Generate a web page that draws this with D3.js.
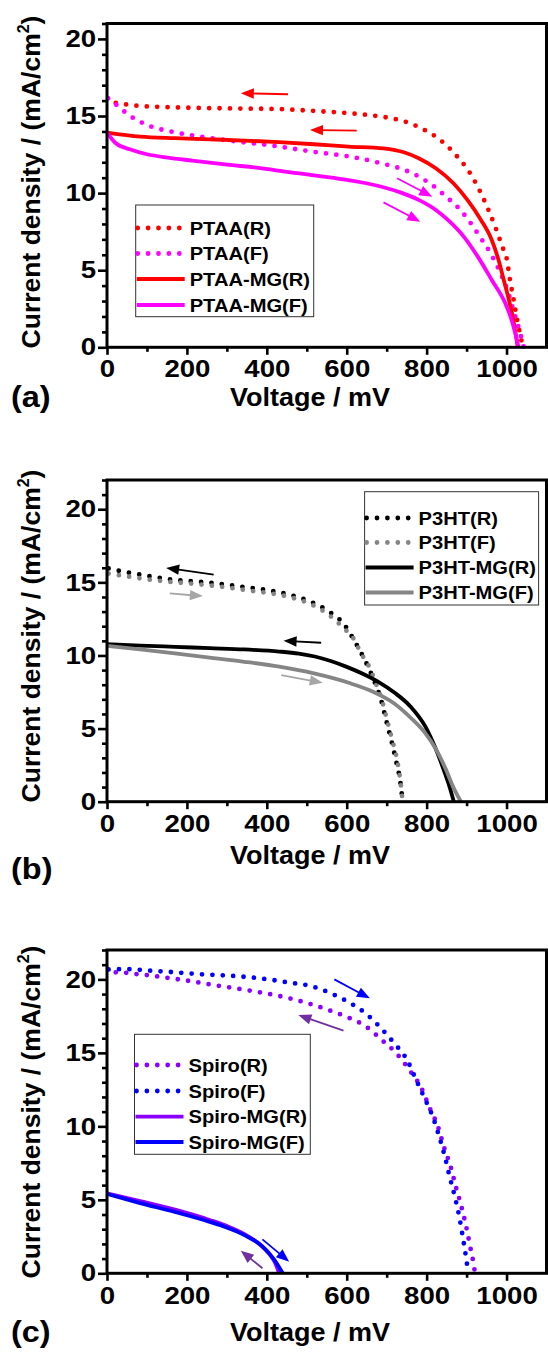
<!DOCTYPE html>
<html>
<head>
<meta charset="utf-8">
<script src="https://cdn.jsdelivr.net/npm/d3@7"></script>
<style>
  body { margin: 0; background: #fff; }
  svg { display: block; font-family: 'Liberation Sans', Arial, sans-serif; font-weight: bold; }
</style>
</head>
<body>
<svg id="chart" width="548" height="1356"></svg>
<script>
/* global d3 */

// ---- data: [voltage mV, current density mA/cm2] ----
var voltTicks = [0, 200, 400, 600, 800, 1000]
var currTicks = [0, 5, 10, 15, 20]

// panel (a) PTAA
var ptaaR = [[22, 15.85], [78, 15.66], [131, 15.59], [183, 15.55], [235, 15.52], [287, 15.5], [340, 15.48], [392, 15.47], [440, 15.44], [492, 15.37], [544, 15.29], [597, 15.2], [647, 15.08], [697, 14.92], [746, 14.64], [793, 14.12], [834, 13.45], [872, 12.5], [906, 11.4], [931, 10.25], [954, 8.95], [974, 7.65], [991, 6.42], [1000, 5.8], [1008, 4.48], [1017, 3.18], [1027, 1.73], [1037, 0.48], [1041, 0]]
var ptaaF = [[3, 16.15], [22, 15.76], [58, 15.0], [85, 14.6], [111, 14.31], [161, 13.99], [235, 13.66], [314, 13.38], [414, 13.08], [514, 12.69], [618, 12.32], [693, 11.89], [745, 11.5], [788, 10.96], [830, 10.2], [849, 9.75], [868, 9.34], [902, 8.35], [932, 7.22], [961, 6.05], [983, 4.91], [1002, 3.72], [1017, 2.42], [1032, 1.12], [1043, 0]]
var ptaaMgR = [[0, 13.92], [83, 13.66], [170, 13.56], [257, 13.49], [344, 13.41], [431, 13.3], [518, 13.17], [605, 13.02], [692, 12.9], [745, 12.63], [780, 12.26], [823, 11.61], [867, 10.64], [902, 9.56], [936, 8.26], [963, 6.96], [980, 5.66], [993, 4.37], [1006, 3.07], [1017, 1.77], [1028, 0]]
var ptaaMgF = [[0, 13.92], [22, 13.23], [57, 12.84], [100, 12.52], [152, 12.3], [213, 12.11], [301, 11.85], [388, 11.61], [475, 11.29], [562, 11.0], [649, 10.64], [692, 10.38], [736, 10.03], [780, 9.56], [823, 8.91], [858, 8.15], [893, 7.18], [928, 5.88], [963, 4.37], [997, 2.85], [1010, 1.99], [1022, 0.91], [1030, 0]]

// panel (b) P3HT
var p3htR = [[4, 15.95], [30, 15.79], [57, 15.65], [81, 15.54], [106, 15.42], [132, 15.31], [159, 15.19], [209, 15.08], [261, 14.97], [309, 14.8], [361, 14.62], [412, 14.42], [462, 14.12], [510, 13.67], [553, 13.05], [593, 12.14], [623, 10.82], [647, 9.59], [668, 8.31], [686, 6.95], [699, 5.54], [712, 4.15], [724, 2.73], [734, 1.37], [740, 0]]
var p3htF = [[4, 15.6], [57, 15.38], [106, 15.19], [159, 15.03], [209, 14.92], [261, 14.78], [309, 14.62], [361, 14.42], [412, 14.24], [462, 13.96], [510, 13.51], [553, 12.82], [593, 11.85], [616, 11.2], [636, 10.14], [656, 9.23], [673, 8.09], [688, 6.95], [701, 5.58], [714, 4.21], [726, 2.85], [734, 1.48], [740, 0]]
var p3htMgR = [[0, 10.77], [83, 10.68], [170, 10.59], [257, 10.5], [344, 10.41], [431, 10.27], [480, 10.13], [520, 9.93], [560, 9.62], [600, 9.22], [640, 8.75], [680, 8.18], [720, 7.45], [760, 6.5], [797, 5.13], [823, 3.6], [845, 2.0], [858, 0.95], [868, 0]]
var p3htMgF = [[0, 10.66], [83, 10.41], [170, 10.14], [257, 9.86], [344, 9.57], [431, 9.23], [518, 8.77], [605, 8.13], [666, 7.52], [719, 6.72], [762, 5.69], [797, 4.67], [823, 3.6], [849, 2.16], [866, 1.03], [886, 0]]

// panel (c) Spiro
var spiroR = [[22, 20.48], [48, 20.45], [74, 20.36], [100, 20.29], [151, 20.11], [202, 19.91], [253, 19.68], [305, 19.46], [355, 19.25], [407, 19.0], [457, 18.71], [506, 18.35], [555, 17.91], [603, 17.41], [649, 16.78], [688, 15.87], [726, 14.92], [758, 13.79], [787, 12.59], [808, 11.22], [829, 9.93], [843, 8.62], [860, 7.26], [873, 5.9], [887, 4.54], [899, 3.17], [909, 1.81], [919, 0.39], [921, 0]]
var spiroF = [[4, 20.68], [50, 20.7], [100, 20.61], [151, 20.52], [203, 20.41], [255, 20.32], [307, 20.25], [358, 20.14], [409, 19.98], [459, 19.77], [510, 19.55], [557, 19.09], [604, 18.46], [647, 17.69], [684, 16.73], [719, 15.65], [752, 14.47], [773, 13.2], [795, 11.9], [816, 10.61], [832, 9.25], [846, 7.89], [858, 6.53], [871, 5.17], [882, 3.81], [891, 2.38], [899, 1.02], [904, 0]]
var spiroMgR = [[0, 5.44], [83, 4.91], [170, 4.33], [257, 3.63], [301, 3.21], [344, 2.67], [379, 2.04], [405, 1.36], [420, 0.76], [431, 0]]
var spiroMgF = [[0, 5.4], [83, 4.78], [170, 4.17], [257, 3.5], [301, 3.1], [344, 2.6], [388, 1.85], [418, 0.95], [440, 0]]

// scan direction arrows: [from, to] in data units
var arrowsA = [[[453, 16.41], [335, 16.48]], [[625, 14.05], [508, 14.1]], [[726, 10.96], [814, 9.77]], [[692, 9.4], [784, 8.15]]]
var arrowsB = [[[267, 15.53], [148, 15.99]], [[157, 14.24], [240, 14.06]], [[536, 10.87], [442, 11.0]], [[436, 8.66], [540, 8.13]]]
var arrowsC = [[[569, 20.0], [658, 18.71]], [[592, 16.51], [479, 17.57]], [[389, 2.31], [456, 0.79]], [[389, 0.34], [335, 1.54]]]

// ---- layout ----
var xLeft = 107, xRight = 546.5
var SX = 1.15 // reference text is a little wide

var panels = [
  {
    label: '(a)', top: 23.5, bottom: 347.3, ymax: 21,
    tickBase: 13, titleY: 406, labelY: 407, yTitleY: 182,
    series: [
      {name: 'PTAA(R)', data: ptaaR, color: '#ff0000', dotted: true},
      {name: 'PTAA(F)', data: ptaaF, color: '#ff00ff', dotted: true},
      {name: 'PTAA-MG(R)', data: ptaaMgR, color: '#ff0000'},
      {name: 'PTAA-MG(F)', data: ptaaMgF, color: '#ff00ff'}
    ],
    arrows: arrowsA, arrowColors: ['#ff0000', '#ff0000', '#ff00ff', '#ff00ff'],
    legend: {x: 135.7, y: 205, w: 178, h: 111.7, rows: [228, 253.5, 279, 305]}
  },
  {
    label: '(b)', top: 480, bottom: 801.7, ymax: 22,
    tickBase: 13, titleY: 864, labelY: 879, yTitleY: 636,
    series: [
      {name: 'P3HT(R)', data: p3htR, color: '#000000', dotted: true},
      {name: 'P3HT(F)', data: p3htF, color: '#858585', dotted: true},
      {name: 'P3HT-MG(R)', data: p3htMgR, color: '#000000'},
      {name: 'P3HT-MG(F)', data: p3htMgF, color: '#858585'}
    ],
    arrows: arrowsB, arrowColors: ['#000000', '#a6a6a6', '#000000', '#a6a6a6'],
    legend: {x: 364.6, y: 491.7, w: 174, h: 113.3, rows: [518, 542.5, 567.5, 592.5]}
  },
  {
    label: '(c)', top: 950, bottom: 1273.3, ymax: 22,
    tickBase: 14, titleY: 1341, labelY: 1342, yTitleY: 1112,
    series: [
      {name: 'Spiro(R)', data: spiroR, color: '#8c00ff', dotted: true},
      {name: 'Spiro(F)', data: spiroF, color: '#0000ff', dotted: true},
      {name: 'Spiro-MG(R)', data: spiroMgR, color: '#8c00ff'},
      {name: 'Spiro-MG(F)', data: spiroMgF, color: '#0000ff'}
    ],
    arrows: arrowsC, arrowColors: ['#0000ff', '#7030a0', '#0000ff', '#7030a0'],
    legend: {x: 134.5, y: 1034.3, w: 175.8, h: 120, rows: [1065, 1091, 1116.7, 1142]}
  }
]

var svg = d3.select('#chart')

panels.forEach(drawPanel)

function drawPanel (p) {
  var x = d3.scaleLinear().domain([0, 1100]).range([xLeft, xRight])
  var y = d3.scaleLinear().domain([0, p.ymax]).range([p.bottom, p.top])
  var g = svg.append('g')

  // minor ticks
  g.append('g')
    .attr('transform', 'translate(' + xLeft + ',0)')
    .call(d3.axisLeft(y).tickValues(d3.range(1, p.ymax + 1).filter(function (v) { return v % 5 })).tickSize(5).tickFormat(''))
  g.append('g')
    .attr('transform', 'translate(0,' + p.bottom + ')')
    .call(d3.axisBottom(x).tickValues([100, 300, 500, 700, 900]).tickSize(4.5).tickFormat(''))

  // major ticks
  g.append('g')
    .attr('class', 'y-axis')
    .attr('transform', 'translate(' + xLeft + ',0)')
    .call(d3.axisLeft(y).tickValues(currTicks).tickSize(9).tickPadding(0.5).tickFormat(d3.format('d')))
  g.append('g')
    .attr('class', 'x-axis')
    .attr('transform', 'translate(0,' + p.bottom + ')')
    .call(d3.axisBottom(x).tickValues(voltTicks).tickSize(7.5).tickPadding(p.tickBase - 7.5).tickFormat(d3.format('d')))

  g.selectAll('.domain').remove()
  g.selectAll('.tick line').attr('stroke', '#000').attr('stroke-width', 2.6)
  g.selectAll('.tick text')
    .attr('fill', '#000')
    .style('font-size', '24px')
    .style('font-family', "'Liberation Sans', Arial, sans-serif")
    .style('font-weight', 'bold')
    .attr('transform', 'scale(' + SX + ',1)')

  // curves
  var line = d3.line()
    .x(function (d) { return x(d[0]) })
    .y(function (d) { return y(d[1]) })
    .curve(d3.curveMonotoneX)

  p.series.forEach(function (s) {
    var path = g.append('path')
      .datum(s.data)
      .attr('d', line)
      .attr('fill', 'none')
      .attr('stroke', s.color)
    styleLine(path, s.dotted)
  })

  // arrows
  p.arrows.forEach(function (a, i) {
    drawArrow(g, x(a[0][0]), y(a[0][1]), x(a[1][0]), y(a[1][1]), p.arrowColors[i])
  })

  // frame
  g.append('rect')
    .attr('x', xLeft)
    .attr('y', p.top)
    .attr('width', xRight - xLeft)
    .attr('height', p.bottom - p.top)
    .attr('fill', 'none')
    .attr('stroke', '#000')
    .attr('stroke-width', 3)

  // legend
  var L = p.legend
  var lg = g.append('g')
  lg.append('rect')
    .attr('x', L.x).attr('y', L.y)
    .attr('width', L.w).attr('height', L.h)
    .attr('fill', '#fff')
    .attr('stroke', '#333')
    .attr('stroke-width', 1)
  p.series.forEach(function (s, i) {
    var ry = L.rows[i]
    var sample = lg.append('path')
      .attr('d', s.dotted
        ? 'M' + (L.x + 2) + ',' + ry + 'H' + (L.x + 44)
        : 'M' + (L.x + 1) + ',' + ry + 'H' + (L.x + 49))
      .attr('fill', 'none')
      .attr('stroke', s.color)
    styleLine(sample, s.dotted)
    lg.append('text')
      .attr('transform', 'translate(' + (L.x + 54) + ',' + (ry + 6.5) + ') scale(' + SX + ',1)')
      .style('font-size', '17.5px')
      .text(s.name)
  })

  // axis titles
  g.append('text')
    .attr('transform', 'translate(310,' + p.titleY + ') scale(1.08,1)')
    .attr('text-anchor', 'middle')
    .style('font-size', '25px')
    .text('Voltage / mV')

  var yt = g.append('text')
    .attr('transform', 'translate(39.5,' + p.yTitleY + ') rotate(-90)')
    .attr('text-anchor', 'middle')
    .style('font-size', '26.5px')
  yt.append('tspan').text('Current density / (mA/cm')
  yt.append('tspan').attr('dy', -11).style('font-size', '16px').text('2')
  yt.append('tspan').attr('dy', 11).text(')')

  // panel letter
  g.append('text')
    .attr('transform', 'translate(11,' + p.labelY + ') scale(1.12,1)')
    .style('font-size', '29px')
    .text(p.label)
}

function styleLine (path, dotted) {
  if (dotted) {
    path.attr('stroke-width', 4.8)
      .attr('stroke-linecap', 'round')
      .attr('stroke-dasharray', '0 10.4')
  } else {
    path.attr('stroke-width', 3.8)
  }
}

function drawArrow (g, x0, y0, x1, y1, color) {
  var ang = Math.atan2(y1 - y0, x1 - x0)
  var len = 13, half = 5.2
  var bx = x1 - len * Math.cos(ang), by = y1 - len * Math.sin(ang)
  g.append('line')
    .attr('x1', x0).attr('y1', y0)
    .attr('x2', bx + 2 * Math.cos(ang)).attr('y2', by + 2 * Math.sin(ang))
    .attr('stroke', color)
    .attr('stroke-width', 1.8)
  var px = -Math.sin(ang) * half, py = Math.cos(ang) * half
  g.append('polygon')
    .attr('points', [[x1, y1], [bx + px, by + py], [bx - px, by - py]].map(function (q) { return q.join(',') }).join(' '))
    .attr('fill', color)
}
</script>
</body>
</html>
